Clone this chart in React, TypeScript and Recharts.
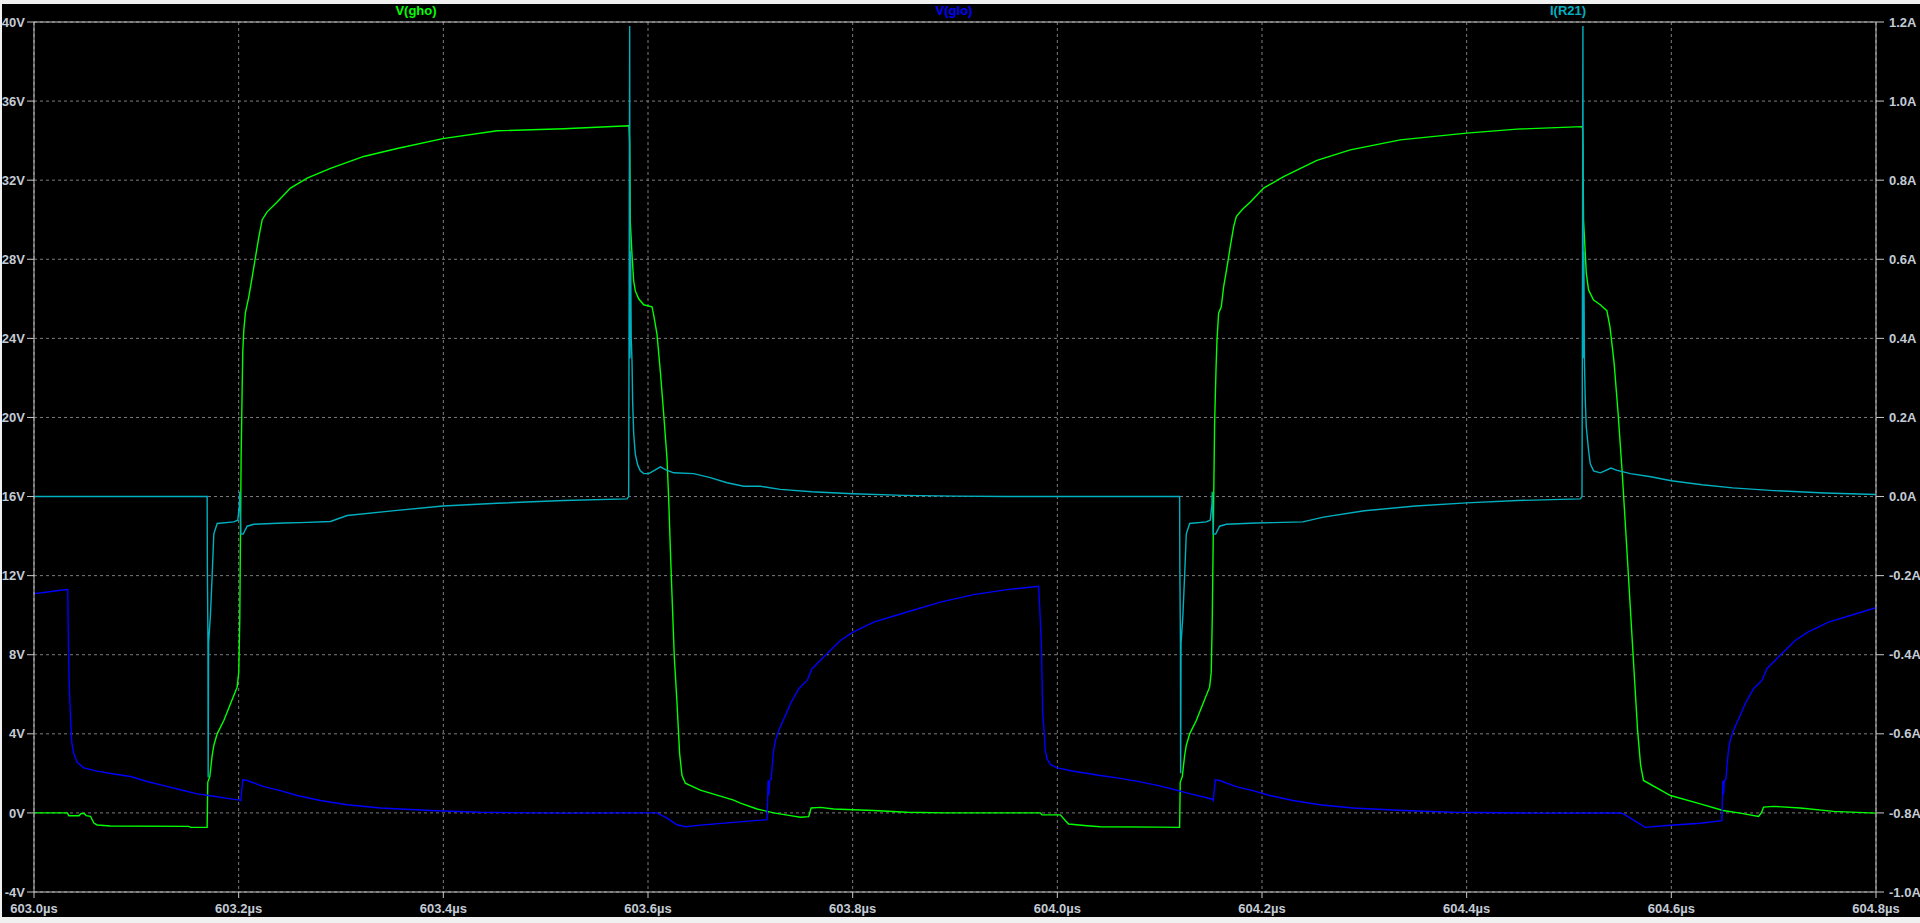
import React from 'react'
import { LineChart, Line, XAxis, YAxis, CartesianGrid, ReferenceLine } from 'recharts'

// axis ticks
const timeTicks = [603.0, 603.2, 603.4, 603.6, 603.8, 604.0, 604.2, 604.4, 604.6, 604.8]
const voltTicks = [-4, 0, 4, 8, 12, 16, 20, 24, 28, 32, 36, 40]
const ampTicks = [-1.0, -0.8, -0.6, -0.4, -0.2, 0.0, 0.2, 0.4, 0.6, 0.8, 1.0, 1.2]

const traceNames = ['V(gho)', 'V(glo)', 'I(R21)']
const traceColors = ['#00ff00', '#0000ff', '#00b0c0']
const labelCenters = [416, 954, 1568]

// [time us, volts]
const vGho: [number, number][] = [
  [603.0, 0], [603.0326, 0], [603.034, -0.14], [603.044, -0.14], [603.046, -0.03], [603.049, -0.03],
  [603.051, -0.14], [603.0552, -0.17], [603.0585, -0.51], [603.0617, -0.61], [603.0747, -0.66],
  [603.1512, -0.68], [603.1531, -0.73], [603.1692, -0.73], [603.1698, 1.55], [603.1718, 1.84],
  [603.1741, 2.9], [603.1757, 3.41], [603.179, 4.0], [603.1855, 4.67], [603.192, 5.52], [603.1985, 6.36],
  [603.2001, 7.12], [603.2011, 9.82], [603.2024, 18.0], [603.2034, 21.4], [603.204, 23.3], [603.205, 24.4],
  [603.2066, 25.3], [603.2099, 26.1], [603.2132, 27.1], [603.2164, 28.1], [603.2196, 29.1], [603.223, 30.0],
  [603.2278, 30.4], [603.2376, 30.9], [603.2506, 31.6], [603.2669, 32.1], [603.2897, 32.6], [603.3222, 33.2],
  [603.3549, 33.6], [603.3994, 34.1], [603.4526, 34.5], [603.5176, 34.6], [603.5811, 34.75], [603.5815, 34.7],
  [603.5821, 33.8], [603.5827, 29.9], [603.5844, 28.2], [603.586, 26.9], [603.5876, 26.4], [603.5909, 26.0],
  [603.5958, 25.7], [603.6039, 25.6], [603.6055, 25.2], [603.6088, 24.2], [603.6121, 22.3], [603.6153, 20.2],
  [603.6186, 17.9], [603.6202, 15.9], [603.6218, 13.4], [603.6234, 11.1], [603.6257, 7.9], [603.6283, 5.6],
  [603.6309, 3.0], [603.6332, 1.9], [603.6365, 1.5], [603.6511, 1.15], [603.6837, 0.65], [603.6903, 0.49],
  [603.7066, 0.2], [603.7228, 0.0], [603.7392, -0.14], [603.7489, -0.22], [603.757, -0.19], [603.7594, 0.25],
  [603.7684, 0.28], [603.7814, 0.2], [603.8205, 0.12], [603.8532, 0.03], [603.8906, 0.0], [603.9834, 0.0],
  [603.985, -0.1], [604.0029, -0.1], [604.0078, -0.38], [604.011, -0.56], [604.029, -0.65], [604.042, -0.7],
  [604.1, -0.72], [604.1195, -0.73], [604.1201, 1.55], [604.1221, 1.84], [604.1244, 2.9], [604.126, 3.41],
  [604.1293, 4.0], [604.1358, 4.67], [604.1423, 5.52], [604.1488, 6.36], [604.1504, 7.12], [604.1514, 9.82],
  [604.1527, 15.5], [604.1537, 19.7], [604.1551, 22.5], [604.156, 23.9], [604.1576, 25.27], [604.1602, 25.6],
  [604.1625, 26.6], [604.1658, 27.6], [604.169, 28.64], [604.1723, 29.65], [604.1749, 30.16], [604.1805, 30.5],
  [604.1886, 30.9], [604.2016, 31.6], [604.2211, 32.18], [604.2537, 33.0], [604.2863, 33.53], [604.3351, 34.04],
  [604.3999, 34.38], [604.4492, 34.58], [604.5127, 34.71], [604.5133, 34.6], [604.5136, 33.8], [604.5142, 30.0],
  [604.5159, 28.3], [604.5169, 27.3], [604.5191, 26.45], [604.524, 25.94], [604.5306, 25.7], [604.537, 25.4],
  [604.54, 24.6], [604.544, 22.8], [604.548, 20.2], [604.552, 17.2], [604.556, 13.8], [604.56, 10.3],
  [604.564, 6.8], [604.567, 4.2], [604.57, 2.4], [604.5728, 1.64], [604.5992, 0.88], [604.6283, 0.46],
  [604.6505, 0.12], [604.6673, -0.01], [604.6852, -0.18], [604.688, 0.0], [604.6901, 0.29], [604.6999, 0.33],
  [604.726, 0.25], [604.7585, 0.08], [604.8, -0.01],
]

const vGlo: [number, number][] = [
  [603.0, 11.09], [603.0096, 11.15], [603.0259, 11.26], [603.033, 11.3], [603.0334, 9.4], [603.0344, 6.53],
  [603.0357, 4.84], [603.0369, 3.57], [603.0389, 2.99], [603.0422, 2.56], [603.0487, 2.28], [603.0617, 2.11],
  [603.078, 1.97], [603.0943, 1.84], [603.1106, 1.59], [603.1268, 1.38], [603.1431, 1.17], [603.1595, 0.96],
  [603.1757, 0.84], [603.192, 0.71], [603.2001, 0.66], [603.2021, 0.63], [603.204, 1.67], [603.2083, 1.64],
  [603.2245, 1.33], [603.2408, 1.13], [603.2572, 0.88], [603.2799, 0.63], [603.306, 0.41], [603.3386, 0.25],
  [603.3874, 0.12], [603.4363, 0.03], [603.5176, -0.01], [603.583, 0.0], [603.6088, 0.0], [603.6186, -0.26],
  [603.6283, -0.6], [603.6365, -0.7], [603.6511, -0.62], [603.6837, -0.48], [603.7164, -0.34], [603.7174, 1.64],
  [603.718, 0.9], [603.7189, 1.64], [603.7203, 1.7], [603.7213, 2.31], [603.7228, 3.15], [603.7245, 3.66],
  [603.7277, 4.17], [603.7343, 4.94], [603.7392, 5.52], [603.7473, 6.28], [603.7555, 6.7], [603.7604, 7.29],
  [603.7717, 7.88], [603.788, 8.72], [603.8004, 9.14], [603.8205, 9.65], [603.8532, 10.16], [603.8857, 10.66],
  [603.9182, 11.04], [603.9508, 11.29], [603.9817, 11.46], [603.9827, 10.5], [603.9844, 8.56], [603.9857, 5.01],
  [603.9873, 4.0], [603.9883, 3.15], [603.99, 2.73], [603.9932, 2.45], [603.9997, 2.28], [604.0159, 2.11],
  [604.042, 1.89], [604.06, 1.76], [604.08, 1.58], [604.1, 1.37], [604.115, 1.17], [604.13, 0.96],
  [604.145, 0.78], [604.152, 0.68], [604.1524, 0.64], [604.1543, 1.67], [604.1586, 1.64], [604.1748, 1.33],
  [604.1911, 1.13], [604.2075, 0.88], [604.2302, 0.63], [604.2563, 0.41], [604.2889, 0.25], [604.3377, 0.12],
  [604.3866, 0.03], [604.4679, -0.01], [604.55, 0.0], [604.5533, -0.05], [604.5745, -0.73], [604.5957, -0.64],
  [604.6283, -0.52], [604.6494, -0.39], [604.6504, 1.64], [604.651, 0.95], [604.6519, 1.64], [604.6533, 1.7],
  [604.6543, 2.31], [604.6558, 3.15], [604.6575, 3.66], [604.6607, 4.17], [604.6673, 4.94], [604.6722, 5.52],
  [604.6803, 6.28], [604.6885, 6.7], [604.6934, 7.29], [604.7047, 7.88], [604.721, 8.72], [604.7334, 9.14],
  [604.7535, 9.65], [604.7862, 10.16], [604.8, 10.38],
]

// [time us, amps]
const iR21: [number, number][] = [
  [603.0, 0], [603.1692, 0], [603.1694, -0.175], [603.17, -0.372], [603.1702, -0.71], [603.1706, -0.37],
  [603.1724, -0.3], [603.1741, -0.2], [603.1757, -0.095], [603.179, -0.068], [603.1952, -0.064], [603.1991, -0.06],
  [603.2008, -0.02], [603.2011, 0.012], [603.2016, -0.05], [603.2021, -0.095], [603.2044, -0.095], [603.2083, -0.075],
  [603.2148, -0.07], [603.2441, -0.067], [603.2604, -0.066], [603.2897, -0.063], [603.306, -0.048], [603.3549, -0.035],
  [603.3994, -0.024], [603.4526, -0.017], [603.5176, -0.01], [603.5795, -0.006], [603.5811, 0.0], [603.5814, 0.29],
  [603.5821, 1.19], [603.5824, 0.35], [603.583, 0.62], [603.5836, 0.4], [603.5844, 0.34], [603.585, 0.24],
  [603.586, 0.16], [603.5876, 0.107], [603.5899, 0.08], [603.5925, 0.065], [603.5958, 0.058], [603.6007, 0.058],
  [603.6055, 0.065], [603.6121, 0.075], [603.617, 0.068], [603.6251, 0.06], [603.6446, 0.058], [603.6609, 0.048],
  [603.6772, 0.035], [603.6935, 0.026], [603.7098, 0.026], [603.7293, 0.018], [603.76, 0.012], [603.8, 0.007],
  [603.85, 0.003], [603.9, 0.001], [603.95, 0.0], [604.1195, 0.0], [604.1197, -0.175], [604.1203, -0.37],
  [604.1205, -0.7], [604.1209, -0.37], [604.1227, -0.3], [604.1244, -0.2], [604.126, -0.095], [604.1293, -0.068],
  [604.1455, -0.064], [604.1494, -0.06], [604.1511, -0.02], [604.1514, 0.012], [604.1519, -0.05], [604.1524, -0.095],
  [604.1547, -0.095], [604.1586, -0.075], [604.1651, -0.07], [604.1944, -0.067], [604.2107, -0.066], [604.24, -0.064],
  [604.26, -0.052], [604.3, -0.036], [604.35, -0.024], [604.4, -0.016], [604.45, -0.01], [604.511, -0.006],
  [604.5127, 0.0], [604.513, 0.29], [604.5136, 1.19], [604.5139, 0.35], [604.5145, 0.62], [604.5151, 0.34],
  [604.5159, 0.244], [604.5169, 0.176], [604.5191, 0.117], [604.5208, 0.083], [604.524, 0.065], [604.5306, 0.06],
  [604.535, 0.065], [604.541, 0.072], [604.547, 0.066], [604.56, 0.058], [604.58, 0.05], [604.6, 0.04],
  [604.63, 0.03], [604.66, 0.022], [604.7, 0.015], [604.75, 0.009], [604.8, 0.005],
]

const toRows = (pts: [number, number][]) => pts.map(([t, v]) => ({ t, v }))

const AXIS_COLOR = '#c8c8c8'
const GRID_COLOR = '#7c7c7c'
const FONT = '"Liberation Sans", Arial, sans-serif'
const tickStyle = {
  fill: '#c3cbd6',
  fontSize: 13,
  fontWeight: 700,
  fontFamily: FONT,
}

export default function App() {
  return (
    <div style={{ position: 'relative', width: 1920, height: 923, background: '#f0f0f0', overflow: 'hidden' }}>
      <style>{'body{margin:0}'}</style>
      <div style={{ position: 'absolute', left: 2, top: 4, width: 1918, height: 913, background: '#000' }} />
      {traceNames.map((name, i) => (
        <div
          key={name}
          style={{
            position: 'absolute',
            top: 3,
            left: labelCenters[i] - 60,
            width: 120,
            textAlign: 'center',
            color: traceColors[i],
            fontSize: 13,
            fontWeight: 700,
            lineHeight: '16px',
            fontFamily: FONT,
          }}
        >
          {name}
        </div>
      ))}
      <div style={{ position: 'absolute', left: 0, top: 0 }}>
        <LineChart width={1920} height={923} margin={{ top: 22, right: 0, bottom: 0, left: 0 }}>
          <CartesianGrid yAxisId="left" stroke={GRID_COLOR} strokeDasharray="3 3" />
          <XAxis
            dataKey="t"
            type="number"
            domain={[603.0, 604.8]}
            ticks={timeTicks}
            interval={0}
            allowDataOverflow
            height={31}
            stroke={AXIS_COLOR}
            tickSize={6}
            tickMargin={6}
            tick={tickStyle}
            tickFormatter={(v: number) => `${v.toFixed(1)}µs`}
          />
          <YAxis
            yAxisId="left"
            type="number"
            domain={[-4, 40]}
            ticks={voltTicks}
            interval={0}
            allowDataOverflow
            width={34}
            stroke={AXIS_COLOR}
            tickSize={7}
            tickMargin={2}
            tick={tickStyle}
            tickFormatter={(v: number) => `${v}V`}
          />
          <YAxis
            yAxisId="right"
            orientation="right"
            type="number"
            domain={[-1.0, 1.2]}
            ticks={ampTicks}
            interval={0}
            allowDataOverflow
            width={44}
            stroke={AXIS_COLOR}
            tickSize={8}
            tickMargin={5}
            tick={{ ...tickStyle, textAnchor: 'start' }}
            tickFormatter={(v: number) => `${v.toFixed(1)}A`}
          />
          <ReferenceLine yAxisId="left" y={40} stroke={AXIS_COLOR} />
          <Line
            yAxisId="left"
            data={toRows(vGho)}
            dataKey="v"
            type="linear"
            stroke={traceColors[0]}
            strokeWidth={1.4}
            dot={false}
            isAnimationActive={false}
          />
          <Line
            yAxisId="left"
            data={toRows(vGlo)}
            dataKey="v"
            type="linear"
            stroke={traceColors[1]}
            strokeWidth={1.4}
            dot={false}
            isAnimationActive={false}
          />
          <Line
            yAxisId="right"
            data={toRows(iR21)}
            dataKey="v"
            type="linear"
            stroke={traceColors[2]}
            strokeWidth={1.4}
            dot={false}
            isAnimationActive={false}
          />
        </LineChart>
      </div>
    </div>
  )
}
